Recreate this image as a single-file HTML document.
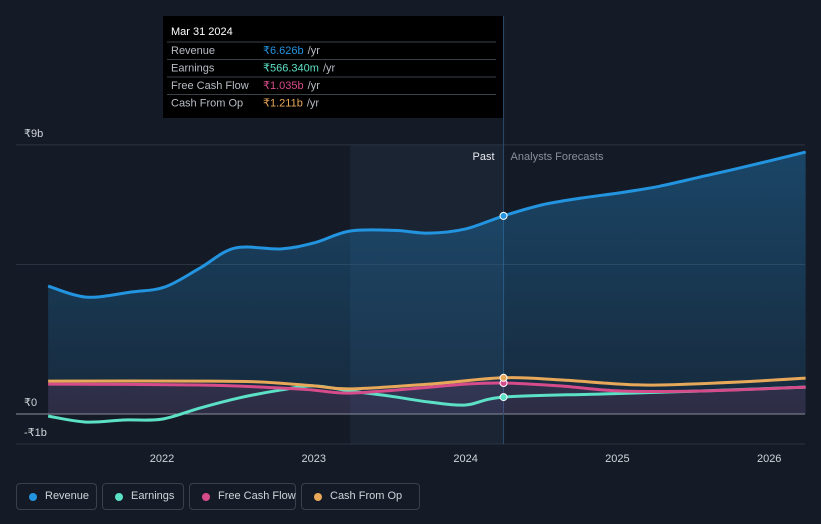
<!DOCTYPE html>
<html><head><meta charset="utf-8">
<style>
body{margin:0;background:#151b26;width:821px;height:524px;overflow:hidden;font-family:"Liberation Sans",sans-serif;}
svg{position:absolute;left:0;top:0}
.leg{position:absolute;top:483px;height:27px;border:1px solid #3a404c;border-radius:4px;color:#d0d4da;font-size:11px;line-height:25px;box-sizing:border-box;padding-left:28px;white-space:nowrap}
.leg i{position:absolute;left:12px;top:9px;width:8px;height:8px;border-radius:50%}
</style></head><body>
<svg id="chart" width="821" height="524"></svg>
<div class="leg" style="left:16px;width:81px"><i style="background:#2394df"></i>Revenue</div>
<div class="leg" style="left:102px;width:82px"><i style="background:#5ce0c6"></i>Earnings</div>
<div class="leg" style="left:189px;width:107px"><i style="background:#d64c8a"></i>Free Cash Flow</div>
<div class="leg" style="left:301px;width:119px"><i style="background:#e8a85a"></i>Cash From Op</div>
<script>
const revX=[2021.25,2021.5,2021.8,2022.02,2022.25,2022.48,2022.78,2023.0,2023.24,2023.53,2023.76,2024.0,2024.25,2024.5,2024.76,2025.02,2025.28,2025.54,2025.8,2026.24];
const revY=[4.28,3.91,4.08,4.25,4.88,5.55,5.52,5.72,6.12,6.14,6.05,6.19,6.626,6.99,7.22,7.4,7.62,7.92,8.22,8.76];
const earnX=[2021.25,2021.5,2021.75,2022.0,2022.25,2022.5,2022.78,2023.0,2023.24,2023.5,2023.76,2024.0,2024.25,2024.9,2025.55,2026.24];
const earnY=[-0.07,-0.27,-0.2,-0.17,0.2,0.53,0.8,0.94,0.77,0.6,0.4,0.3,0.566,0.67,0.77,0.9];
const fcfX=[2021.25,2022.25,2022.78,2023.0,2023.24,2023.7,2024.0,2024.25,2024.62,2025.02,2025.55,2026.24];
const fcfY=[1.0,0.97,0.87,0.8,0.7,0.87,1.0,1.035,0.94,0.77,0.77,0.9];
const cfoX=[2021.25,2022.25,2022.65,2023.0,2023.24,2023.76,2024.25,2024.62,2025.02,2025.28,2025.8,2026.24];
const cfoY=[1.1,1.1,1.07,0.94,0.84,1.0,1.211,1.14,1.0,0.97,1.07,1.2];
const yTicks=[9,0,-1];const yLabels=["₹9b","₹0","-₹1b"];
const xTicks=[2022,2023,2024,2025,2026];
const X=t=>162+(t-2022)*151.8, Y=v=>414-v*29.9;
const NS="http://www.w3.org/2000/svg",svg=document.getElementById('chart');
function el(tag,a,p){const e=document.createElementNS(NS,tag);for(const k in a)e.setAttribute(k,a[k]);(p||svg).appendChild(e);return e;}
function path(xs,ys){const p=xs.map((x,i)=>[X(x),Y(ys[i])]);let d=`M${p[0][0]},${p[0][1]}`;
for(let i=0;i<p.length-1;i++){const a=p[i-1]||p[i],b=p[i],c=p[i+1],e=p[i+2]||c;
d+=` C${b[0]+(c[0]-a[0])/6},${b[1]+(c[1]-a[1])/6} ${c[0]-(e[0]-b[0])/6},${c[1]-(e[1]-b[1])/6} ${c[0]},${c[1]}`;}return d;}
const past=X(2024.25);
let r=el('rect',{x:X(2023.24),y:145,width:past-X(2023.24),height:299,fill:'#1a2433'});

[9,5,0].forEach(v=>{const g=el('line',{x1:16,x2:805,y1:Y(v),y2:Y(v),stroke:v==0?'#8a909a':'#2c3340','stroke-width':1});
});
el('line',{x1:16,x2:805,y1:444,y2:444,stroke:'#2c3340'});
el('line',{x1:past,x2:past,y1:16,y2:444,stroke:'#2a4a6a','stroke-width':1});
const defs=el('defs',{});const lg=el('linearGradient',{id:'ga',x1:0,y1:0,x2:0,y2:1},defs);
el('stop',{offset:0,'stop-color':'#2394df','stop-opacity':0.35},lg);el('stop',{offset:1,'stop-color':'#2394df','stop-opacity':0.12},lg);
const rd=path(revX,revY);
let a=el('path',{d:rd+` L${X(revX[revX.length-1])},${Y(0)} L${X(revX[0])},${Y(0)} Z`,fill:'url(#ga)'});

const fd=path(fcfX,fcfY);
a=el('path',{d:fd+` L${X(fcfX[fcfX.length-1])},${Y(0)} L${X(fcfX[0])},${Y(0)} Z`,fill:'#d64c8a','fill-opacity':0.12});

[[earnX,earnY,'#5ce0c6','earnings-line'],[fcfX,fcfY,'#d64c8a','free-cash-flow-line'],[cfoX,cfoY,'#e8a85a','cash-from-op-line'],[revX,revY,'#2394df','revenue-line']].forEach(s=>{
const l=el('path',{d:path(s[0],s[1]),fill:'none',stroke:s[2],'stroke-width':3});
});
[[earnX,earnY,'#5ce0c6'],[fcfX,fcfY,'#d64c8a'],[cfoX,cfoY,'#e8a85a'],[revX,revY,'#2394df']].forEach(s=>{
const i=s[0].indexOf(2024.25);const c=el('circle',{cx:past,cy:Y(s[1][i]),r:3.5,fill:s[2],stroke:'#fff','stroke-width':1});
});
yTicks.forEach((v,i)=>{const t=el('text',{x:24,y:Y(v)-8,fill:'#d0d4da','font-size':11});t.textContent=yLabels[i];
if(v==-1)t.setAttribute('y',436);});
xTicks.forEach(v=>{const t=el('text',{x:X(v),y:462,fill:'#d0d4da','font-size':11,'text-anchor':'middle'});t.textContent=v;
});
let t=el('text',{x:past-9,y:160,fill:'#e8eaee','font-size':11,'text-anchor':'end'});t.textContent='Past';

t=el('text',{x:past+7,y:160,fill:'#8a909a','font-size':11});t.textContent='Analysts Forecasts';

const tg=el('g',{});
el('rect',{x:163,y:16,width:340,height:102,fill:'#000'},tg);
t=el('text',{x:171,y:35,fill:'#fff','font-size':11},tg);t.textContent='Mar 31 2024';
const rows=[['Revenue','₹6.626b','#2394df'],['Earnings','₹566.340m','#5ce0c6'],['Free Cash Flow','₹1.035b','#d64c8a'],['Cash From Op','₹1.211b','#e8a85a']];
rows.forEach((r,i)=>{const y=42+i*17.5;el('line',{x1:167,x2:496,y1:y,y2:y,stroke:'#3a3f48'},tg);
let a=el('text',{x:171,y:y+12,fill:'#b8bcc4','font-size':11},tg);a.textContent=r[0];
a=el('text',{x:263,y:y+12,fill:r[2],'font-size':11},tg);a.textContent=r[1];
const w=a.getComputedTextLength?a.getComputedTextLength():50;
const b=el('text',{x:263+w+4,y:y+12,fill:'#b8bcc4','font-size':11},tg);b.textContent='/yr';});
</script>
</body></html>
